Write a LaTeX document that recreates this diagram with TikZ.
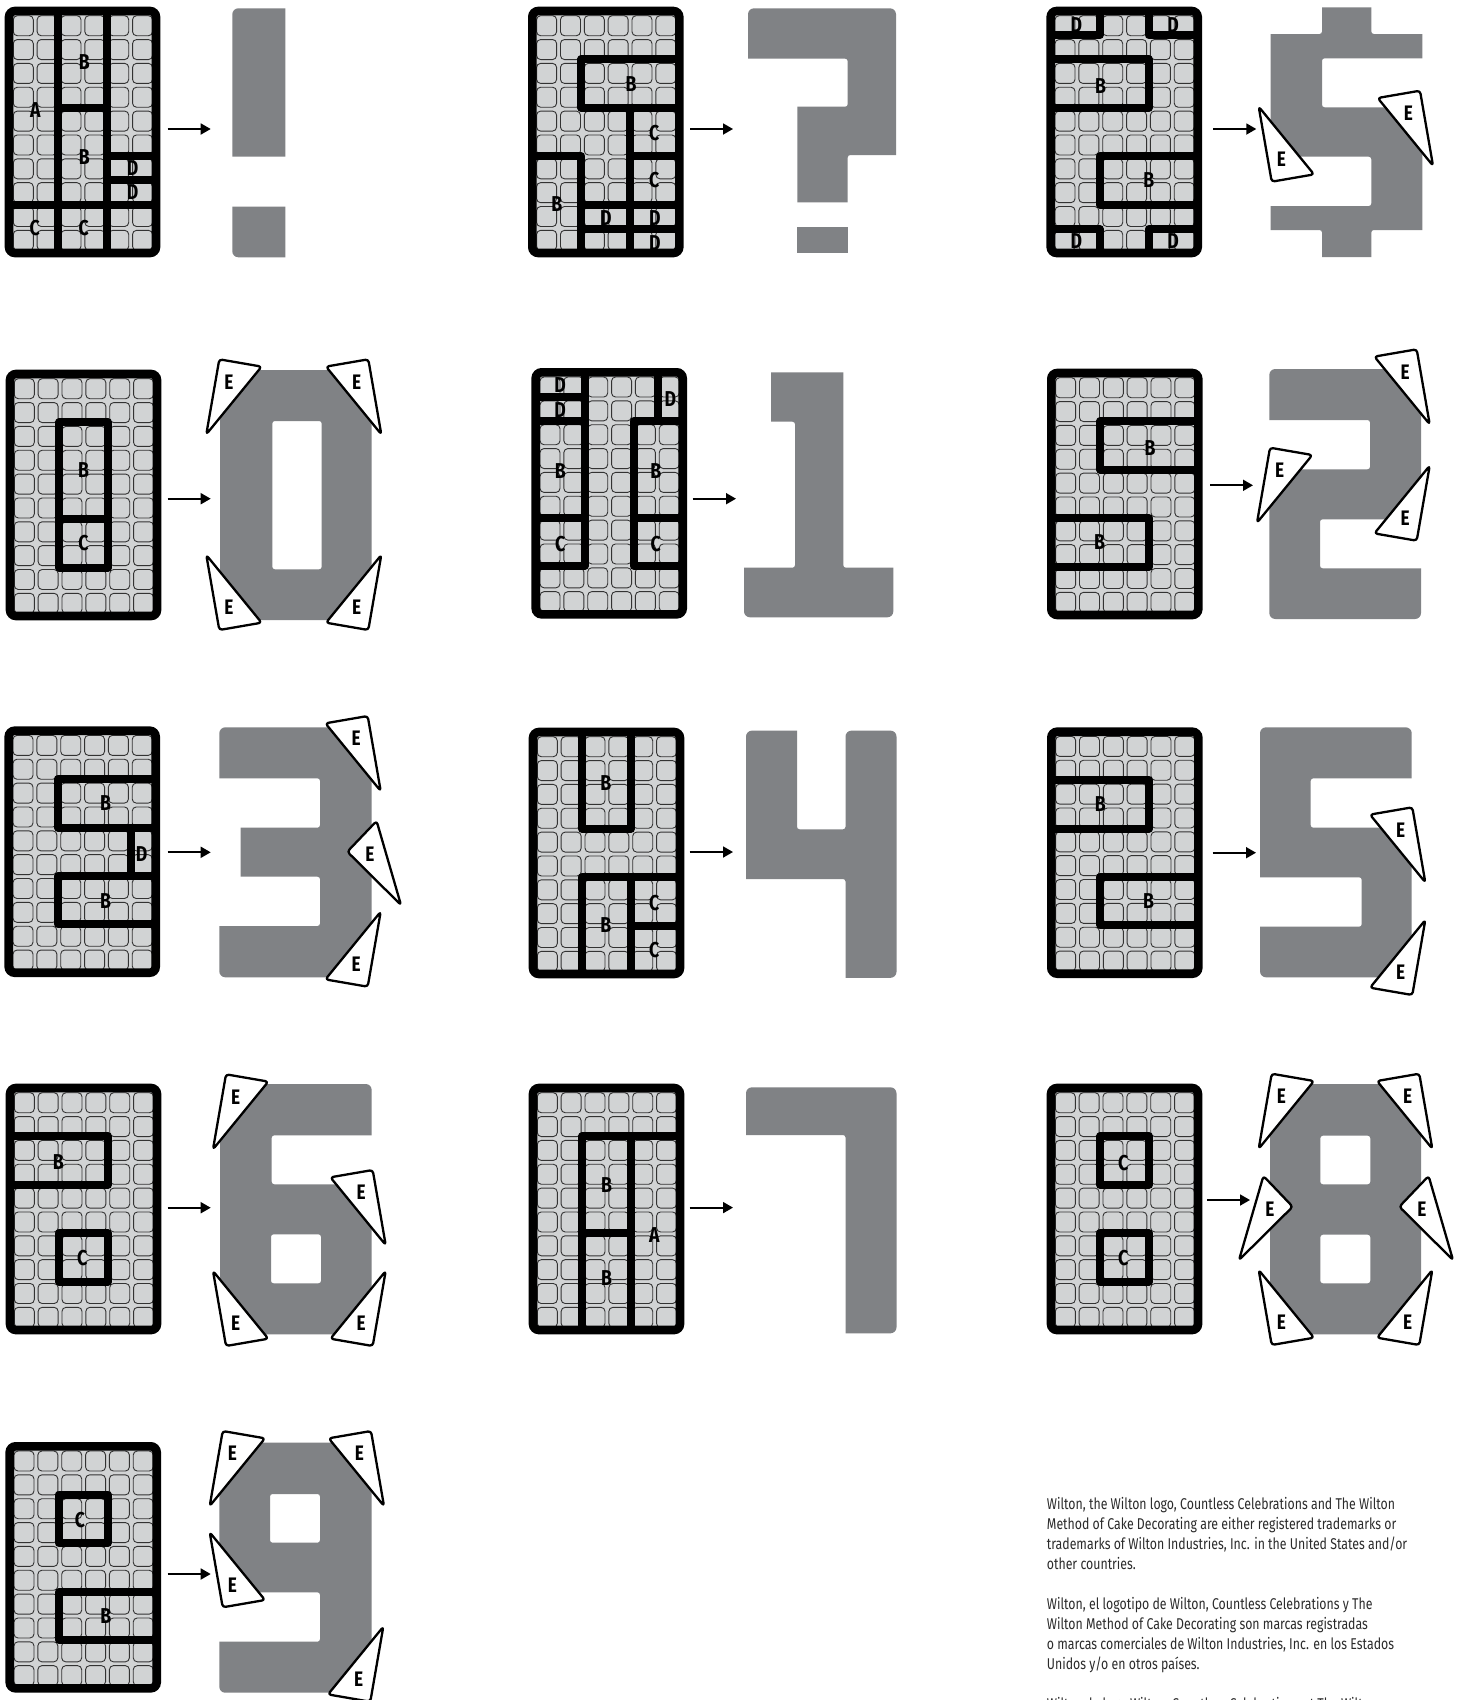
\documentclass[tikz,border=0pt]{standalone}
\usepackage{fontspec}
\usetikzlibrary{arrows.meta}
\setmainfont{Fira Sans}
\newfontfamily\labfont[FakeStretch=0.82]{Fira Sans}
\newfontfamily\txtfont[FakeStretch=0.79]{Fira Sans}
\definecolor{glyphgray}{HTML}{808285}
\definecolor{cellbg}{HTML}{D1D3D4}
\definecolor{cellln}{HTML}{333333}
\definecolor{txtcol}{HTML}{2B2B2B}
\newcounter{autoid}
\tikzset{
  x=1pt,y=-1pt,
  cellline/.style={draw=cellln,line width=0.9pt,rounded corners=4pt},
  heavy/.style={draw=black,line width=8pt,line join=round},
  border/.style={draw=black,line width=8.6pt,rounded corners=6pt},
  glyph/.style={fill=glyphgray,even odd rule},
  rO/.style={rounded corners=6pt},
  rI/.style={rounded corners=2.5pt},
  rS/.style={sharp corners},
  tri/.style={draw=black,fill=white,line width=2.3pt,rounded corners=3pt,line join=round},
  lettr/.style={font=\labfont\bfseries\fontsize{21.5}{21.5}\selectfont,inner sep=0pt,text=black},
  elettr/.style={font=\labfont\bfseries\fontsize{21}{21}\selectfont,inner sep=0pt,text=black},
  arr/.style={draw=black,line width=1.8pt,-{Triangle[length=10pt,width=11pt]}},
  para/.style={font=\txtfont\fontsize{15.6}{20}\selectfont,text=txtcol,anchor=north west,inner sep=0pt,align=left}
}
% left, top, content in grid units (6 x 10)
\newcommand\gridpanel[3]{%
  \begin{scope}[shift={(#1,#2)}]
    \fill[cellbg,rounded corners=6pt] (1,1) rectangle (154,249);
    \foreach \c in {0,...,5}{\foreach \r in {0,...,9}{%
      \draw[cellline] ({8.3+23.85*\c},{8.7+23.85*\r}) rectangle +(20,20);}}
  \end{scope}
  \begin{scope}[shift={(#1+4,#2+4)},x=24.5pt,y=-24.2pt]
    #3
  \end{scope}
  \begin{scope}[shift={(#1,#2)}]
    \draw[border] (4,4) rectangle (151,246);
  \end{scope}
}
\newcommand\glab[3]{\stepcounter{autoid}\node[lettr] (n\arabic{autoid}) at (#1,#2) {#3};}
\newcommand\etrc[4]{%
  \draw[tri] (#1,#2) -- ({#1+#3*42.3},{#2+#4*7.3}) -- ({#1-#3*13},{#2+#4*75}) -- cycle;
  \stepcounter{autoid}\node[elettr] (n\arabic{autoid}) at ({#1+#3*10.6-1},{#2+#4*22.5}) {E};}
\newcommand\etrm[3]{%
  \draw[tri] (#1,#2) -- ({#1+#3*29.3},{#2-30.7}) -- ({#1+#3*53.7},{#2+53.3}) -- cycle;
  \stepcounter{autoid}\node[elettr] (n\arabic{autoid}) at ({#1+#3*22.7},{#2+2.3}) {E};}
\newcommand\arrw[4]{%
  \coordinate (#1s) at (#2,#4);\coordinate (#1e) at (#3,#4);
  \draw[arr] (#1s) -- (#1e);}
\begin{document}
\begin{tikzpicture}
\useasboundingbox (0,0) rectangle (1458,1700);
\clip (0,0) rectangle (1458,1700);
\fill[white] (0,0) rectangle (1458,1700);

% ---------- !
\gridpanel{5}{7}{
  \draw[heavy] (2,0)--(2,10); \draw[heavy] (4,0)--(4,10); \draw[heavy] (0,8)--(6,8);
  \draw[heavy] (2,4)--(4,4); \draw[heavy] (4,6)--(6,6); \draw[heavy] (4,7)--(6,7);
  \glab{1.07}{4.1}{A}\glab{3.07}{2.12}{B}\glab{3.07}{6.03}{B}\glab{5.05}{6.5}{D}\glab{5.05}{7.5}{D}\glab{1.05}{8.97}{C}\glab{3.05}{8.97}{C}
}
\fill[glyph] (285.3,50) -- (285.3,156.7) -- (232.3,156.7) [rO] -- (232.3,8.3) [rS] -- (285.3,8.3) -- cycle;
\fill[glyph] (285.3,230) -- (285.3,257.3) [rO] -- (232.3,257.3) [rS] -- (232.3,206.7) -- (285.3,206.7) -- cycle;
\arrw{a1}{167.7}{210.7}{129}

% ---------- ?
\gridpanel{528.3}{7}{
  \draw[heavy] (6,2)--(2,2)--(2,4)--(6,4); \draw[heavy] (4,4)--(4,10);
  \draw[heavy] (0,6)--(2,6)--(2,10); \draw[heavy] (4,6)--(6,6);
  \draw[heavy] (2,8)--(6,8); \draw[heavy] (2,9)--(6,9);
  \glab{4.03}{3}{B}\glab{4.97}{5.05}{C}\glab{4.97}{7}{C}\glab{3}{8.55}{D}\glab{5}{8.55}{D}\glab{5}{9.6}{D}\glab{1}{7.97}{B}
}
\fill[glyph] (800,8.3) [rO] -- (896,8.3) [rS] -- (896,155) [rI] -- (847.7,155) [rS] -- (847.7,202.3) -- (797.3,202.3) -- (797.3,106.7) [rI] -- (847.7,106.7) -- (847.7,58.7) [rS] -- (748,58.7) [rO] -- (748,8.3) [rS] -- cycle;
\fill[glyph] (797.3,226.7) rectangle (847.7,252.7);
\arrw{a2}{690}{733}{129}

% ---------- $
\gridpanel{1046.7}{7}{
  \draw[heavy] (0,1)--(2,1)--(2,0); \draw[heavy] (6,1)--(4,1)--(4,0);
  \draw[heavy] (0,2)--(4,2)--(4,4)--(0,4);
  \draw[heavy] (6,6)--(2,6)--(2,8)--(6,8);
  \draw[heavy] (0,9)--(2,9)--(2,10); \draw[heavy] (6,9)--(4,9)--(4,10);
  \glab{1.05}{0.6}{D}\glab{5}{0.6}{D}\glab{2.03}{3.1}{B}\glab{4}{7}{B}\glab{1.05}{9.5}{D}\glab{5}{9.5}{D}
}
\fill[glyph] (1350,7.3) -- (1371.3,7.3) [rI] -- (1371.3,34) [rS] -- (1422.3,34) -- (1422.3,58.3) [rI] -- (1322,58.3) -- (1322,107.3) [rS] -- (1422.3,107.3) -- (1422.3,230) [rI] -- (1371.3,230) [rS] -- (1371.3,257) -- (1322,257) [rI] -- (1322,230) [rS] -- (1270.7,230) -- (1270.7,206) [rI] -- (1371.3,206) -- (1371.3,156.7) [rS] -- (1270.7,156.7) -- (1270.7,34) [rI] -- (1322,34) [rS] -- (1322,7.3) -- cycle;
\etrc{1271.7}{181.7}{1}{-1}
\etrc{1420}{90.7}{-1}{1}
\arrw{a3}{1213.3}{1256.3}{129}

% ---------- 0
\gridpanel{6}{370}{
  \draw[heavy] (2,2) rectangle (4,8); \draw[heavy] (2,6)--(4,6);
  \glab{3}{3.98}{B}\glab{3}{6.98}{C}
}
\fill[glyph] (290,370) -- (328.8,370) -- (371.7,422.5) -- (371.7,566.8) -- (328.2,620) -- (259.4,620) -- (220,571.8) -- (220,417.5) -- (258.8,370) -- cycle [rI] (272.3,421) rectangle (321.7,569.3);
\etrc{219.3}{359.3}{1}{1}\etrc{368.3}{359.3}{-1}{1}\etrc{219.3}{630}{1}{-1}\etrc{368.3}{630}{-1}{-1}
\arrw{a4}{167.7}{210.7}{498.7}

% ---------- 1
\gridpanel{531.7}{368.3}{
  \draw[heavy] (0,1)--(2,1); \draw[heavy] (0,2)--(2,2); \draw[heavy] (2,0)--(2,8)--(0,8);
  \draw[heavy] (0,6)--(2,6); \draw[heavy] (5,0)--(5,2); \draw[heavy] (6,2)--(4,2)--(4,8)--(6,8);
  \draw[heavy] (4,6)--(6,6);
  \glab{1}{0.52}{D}\glab{1}{1.56}{D}\glab{5.5}{1.12}{D}\glab{1}{4.1}{B}\glab{4.9}{4.1}{B}\glab{1}{7.1}{C}\glab{4.9}{7.1}{C}
}
\fill[glyph] (810,372.3) -- (843.3,372.3) [rI] -- (843.3,567.7) [rS] -- (893.3,567.7) [rO] -- (893.3,617.3) -- (744,617.3) [rS] -- (744,567.7) [rI] -- (795,567.7) -- (795,421.7) [rS] -- (771,421.7) -- (771,372.3) -- cycle;
\arrw{a5}{692.7}{736}{498.7}

% ---------- 2
\gridpanel{1047.3}{369}{
  \draw[heavy] (6,2)--(2,2)--(2,4)--(6,4); \draw[heavy] (0,6)--(4,6)--(4,8)--(0,8);
  \glab{4.03}{3.1}{B}\glab{1.97}{6.97}{B}
}
\fill[glyph] (1330,369) -- (1384.5,369) -- (1421,413.6) -- (1421,519.3) [rI] -- (1320,519.3) -- (1320,568.3) [rS] -- (1421,568.3) [rO] -- (1421,619) -- (1269.3,619) [rS] -- (1269.3,469.3) [rI] -- (1370,469.3) -- (1370,420) [rS] -- (1269.3,420) [rO] -- (1269.3,369) [rS] -- cycle;
\etrc{1416.7}{349.3}{-1}{1}\etrc{1270}{447.7}{1}{1}\etrc{1416.7}{540.7}{-1}{-1}
\arrw{a6}{1210}{1253}{485.3}

% ---------- 3
\gridpanel{4.7}{726.7}{
  \draw[heavy] (6,2)--(2,2)--(2,4)--(6,4); \draw[heavy] (5,4)--(5,6); \draw[heavy] (6,6)--(2,6)--(2,8)--(6,8);
  \glab{3.95}{3}{B}\glab{5.43}{5.1}{D}\glab{3.95}{7.02}{B}
}
\fill[glyph] (280,727.3) -- (328.7,727.3) -- (371.7,780.1) -- (371.7,922.6) -- (327.1,977.3) [rO] -- (219.3,977.3) [rS] -- (219.3,926) [rI] -- (320,926) -- (320,876.7) [rS] -- (240.7,876.7) -- (240.7,827.7) [rI] -- (320,827.7) -- (320,778.3) [rS] -- (219.3,778.3) [rO] -- (219.3,727.3) [rS] -- cycle;
\etrc{367.7}{716}{-1}{1}\etrm{347.3}{851.7}{1}\etrc{367.7}{986.7}{-1}{-1}
\arrw{a7}{167.7}{210.7}{852.3}

% ---------- 4
\gridpanel{529}{728}{
  \draw[heavy] (2,0)--(2,4)--(4,4)--(4,0); \draw[heavy] (2,10)--(2,6)--(6,6); \draw[heavy] (4,6)--(4,10); \draw[heavy] (4,8)--(6,8);
  \glab{2.97}{2.1}{B}\glab{2.97}{7.98}{B}\glab{4.95}{7.07}{C}\glab{4.95}{9}{C}
}
\fill[glyph] (770,730.6) -- (797,730.6) [rI] -- (797,829.3) -- (845.5,829.3) [rO] -- (845.5,730.6) -- (896.5,730.6) -- (896.5,977.8) [rS] -- (845.5,977.8) [rI] -- (845.5,879) [rS] -- (746,879) [rO] -- (746,730.6) [rS] -- cycle;
\arrw{a8}{689.7}{733}{852}

% ---------- 5
\gridpanel{1047.3}{727.7}{
  \draw[heavy] (0,2)--(4,2)--(4,4)--(0,4); \draw[heavy] (6,6)--(2,6)--(2,8)--(6,8);
  \glab{2}{3}{B}\glab{3.97}{7}{B}
}
\fill[glyph] (1330,727.3) [rO] -- (1411.7,727.3) [rS] -- (1411.7,778.3) [rI] -- (1310.7,778.3) -- (1310.7,827.7) [rS] -- (1411.7,827.7) -- (1411.7,977.3) [rO] -- (1260,977.3) [rS] -- (1260,926.7) [rI] -- (1361.7,926.7) -- (1361.7,877.3) [rS] -- (1260,877.3) [rO] -- (1260,727.3) [rS] -- cycle;
\etrc{1412.3}{807.3}{-1}{1}\etrc{1412.3}{995}{-1}{-1}
\arrw{a9}{1212.7}{1256}{852.7}

% ---------- 6
\gridpanel{6}{1084}{
  \draw[heavy] (0,2)--(4,2)--(4,4)--(0,4); \draw[heavy] (2,6) rectangle (4,8);
  \glab{1.97}{3.07}{B}\glab{2.95}{7.04}{C}
}
\fill[glyph] (300,1084) [rO] -- (371.7,1084) [rS] -- (371.7,1135.3) [rI] -- (271.7,1135.3) -- (271.7,1184.3) [rS] -- (371.7,1184.3) -- (371.7,1334.3) -- (264.7,1334.3) -- (220,1279.6) -- (220,1140.7) -- (266.3,1084) -- cycle [rI] (271,1234.3) rectangle (321,1283.3);
\etrc{226}{1074.3}{1}{1}\etrc{372.7}{1170}{-1}{1}\etrc{226}{1346}{1}{-1}\etrc{372.7}{1346}{-1}{-1}
\arrw{a10}{167.7}{210.7}{1207.7}

% ---------- 7
\gridpanel{529}{1084}{
  \draw[heavy] (6,2)--(2,2)--(2,10); \draw[heavy] (4,2)--(4,10); \draw[heavy] (2,6)--(4,6);
  \glab{3}{4}{B}\glab{4.95}{6.06}{A}\glab{3}{7.85}{B}
}
\fill[glyph] (800,1087.3) [rO] -- (896.5,1087.3) -- (896.5,1333.3) [rS] -- (845.5,1333.3) [rI] -- (845.5,1135) [rS] -- (746,1135) [rO] -- (746,1087.3) [rS] -- cycle;
\arrw{a11}{689.7}{733}{1207.6}

% ---------- 8
\gridpanel{1047}{1084}{
  \draw[heavy] (2,2) rectangle (4,4); \draw[heavy] (2,6) rectangle (4,8);
  \glab{2.95}{3.08}{C}\glab{2.95}{7.04}{C}
}
\fill[glyph] (1340,1084) -- (1379.4,1084) -- (1421,1134.9) -- (1421,1283.8) -- (1379.8,1334.3) -- (1311.2,1334.3) -- (1270,1283.8) -- (1270,1134.9) -- (1311.6,1084) -- cycle [rI] (1320.3,1135.7) rectangle (1370.3,1184.3) (1320.3,1234.7) rectangle (1370.3,1283.3);
\etrc{1271.7}{1073.7}{1}{1}\etrc{1419.3}{1073.7}{-1}{1}
\etrm{1292.7}{1206.7}{-1}\etrm{1399.3}{1206.7}{1}
\etrc{1271.7}{1345}{1}{-1}\etrc{1419.3}{1345}{-1}{-1}
\arrw{a12}{1207.3}{1250}{1200}

% ---------- 9
\gridpanel{5.7}{1442.3}{
  \draw[heavy] (2,2) rectangle (4,4); \draw[heavy] (6,6)--(2,6)--(2,8)--(6,8);
  \glab{2.87}{3.05}{C}\glab{3.92}{7}{B}
}
\fill[glyph] (300,1442.7) -- (332.3,1442.7) -- (371.7,1490.9) -- (371.7,1640.9) -- (329.4,1692.7) [rO] -- (219.3,1692.7) [rS] -- (219.3,1641.7) [rI] -- (320,1641.7) -- (320,1592.3) [rS] -- (219.3,1592.3) -- (219.3,1494.2) -- (261.4,1442.7) -- cycle [rI] (270,1494) rectangle (320,1542.7);
\etrc{222.7}{1431}{1}{1}\etrc{371}{1431}{-1}{1}\etrc{222.7}{1607.3}{1}{-1}\etrc{370.3}{1701.7}{-1}{-1}
\arrw{a13}{167.7}{210.7}{1574}

% ---------- text
\node[para] (p1) at (1046.7,1497.6) {Wilton, the Wilton logo, Countless Celebrations and The Wilton\\Method of Cake Decorating are either registered trademarks or\\trademarks of Wilton Industries, Inc. in the United States and/or\\other countries.};
\node[para] (p2) at (1046.7,1597.6) {Wilton, el logotipo de Wilton, Countless Celebrations y The\\Wilton Method of Cake Decorating son marcas registradas\\o marcas comerciales de Wilton Industries, Inc. en los Estados\\Unidos y/o en otros países.};
\node[para] (p3) at (1046.7,1697.6) {Wilton, le logo Wilton, Countless Celebrations et The Wilton};
\end{tikzpicture}
\end{document}
